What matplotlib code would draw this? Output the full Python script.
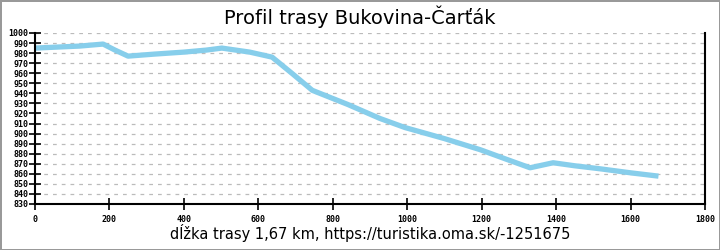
import matplotlib
matplotlib.use("Agg")
import matplotlib.pyplot as plt
from matplotlib.ticker import MultipleLocator

# profil trasy: vzdialenost [m], nadmorska vyska [m]
distance = [0, 60, 120, 183, 215, 250, 320, 400, 460, 502, 577, 637, 690, 745,
            840, 927, 994, 1100, 1196, 1270, 1330, 1392, 1450, 1518, 1600, 1668]
elevation = [985, 986, 987, 989, 983, 977, 979, 981, 983, 985, 981, 976, 960, 943,
             929, 915, 906, 895, 884, 874, 866, 871, 868, 865, 861, 858]

title = "Profil trasy Bukovina-Čarťák"
xlabel = "dĺžka trasy 1,67 km, https://turistika.oma.sk/-1251675"

fig = plt.figure(figsize=(7.2, 2.5), dpi=100)
fig.patch.set_edgecolor("#999999")
fig.patch.set_linewidth(2)
ax = fig.add_axes([35 / 720, 1 - 204 / 250, 670 / 720, 171 / 250])

ax.plot(distance, elevation, color="#87ceeb", linewidth=3.8, solid_joinstyle="round")

ax.set_xlim(0, 1800)
ax.set_ylim(830, 1000)
ax.xaxis.set_major_locator(MultipleLocator(200))
ax.yaxis.set_major_locator(MultipleLocator(10))
ax.grid(axis="y", color="#bbbbbb", linestyle=(0, (3, 4)), linewidth=0.9)
ax.set_axisbelow(True)

ax.spines["top"].set_visible(False)
for s in ("left", "bottom", "right"):
    ax.spines[s].set_linewidth(1.5)
ax.tick_params(axis="both", direction="inout", length=8, width=1.2,
               labelsize=6, pad=3)
ax.tick_params(axis="y", pad=1)
ax.tick_params(axis="x", pad=4)
for lab in ax.get_xticklabels() + ax.get_yticklabels():
    lab.set_family("DejaVu Sans Mono")
    lab.set_fontweight("bold")

fig.text(0.5, 1 - 17 / 250, title, ha="center", va="center", fontsize=14)
fig.text(370 / 720, 1 - 233 / 250, xlabel, ha="center", va="center", fontsize=10.5)

fig.savefig("out.png", dpi=100)
